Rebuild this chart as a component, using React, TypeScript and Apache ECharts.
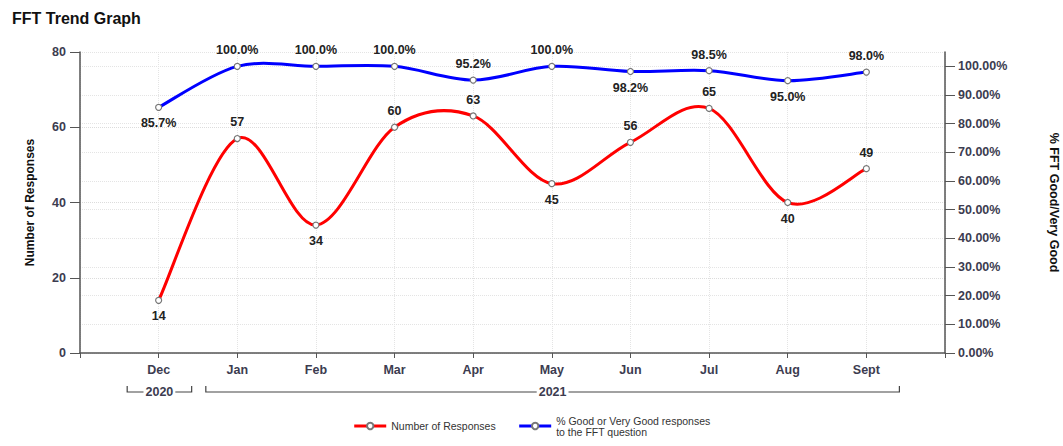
import React, { useEffect, useRef } from "react";
import * as echarts from "echarts";

const months = ["Dec", "Jan", "Feb", "Mar", "Apr", "May", "Jun", "Jul", "Aug", "Sept"];
const years = [
  { label: "2020", from: "Dec", to: "Dec" },
  { label: "2021", from: "Jan", to: "Sept" },
];
const responses = [14, 57, 34, 60, 63, 45, 56, 65, 40, 49];
const goodPct = [85.7, 100.0, 100.0, 100.0, 95.2, 100.0, 98.2, 98.5, 95.0, 98.0];
const responsesLabelPos = ["bottom", "top", "bottom", "top", "top", "bottom", "top", "top", "bottom", "top"];
const pctLabelPos = ["bottom", "top", "top", "top", "top", "top", "bottom", "top", "bottom", "top"];

const FONT = "'Liberation Sans', Arial, sans-serif";
const NAME_RESP = "Number of Responses";
const NAME_PCT = "% Good or Very Good responses\nto the FFT question";

// Catmull-Rom spline drawn segment by segment through the axes' own scales
function splineSeries(values: number[], yAxisIndex: number, color: string) {
  return {
    type: "custom",
    yAxisIndex,
    coordinateSystem: "cartesian2d",
    silent: true,
    z: 2,
    encode: { x: 0, y: 1 },
    data: values.map((v, i) => [i + 1, v]),
    renderItem: (params: any, api: any) => {
      const i = params.dataIndex;
      const n = values.length;
      if (i >= n - 1) return null;
      const pt = (k: number) => {
        const kk = Math.max(0, Math.min(n - 1, k));
        return api.coord([kk + 1, values[kk]]);
      };
      const p0 = pt(i - 1);
      const p1 = pt(i);
      const p2 = pt(i + 1);
      const p3 = pt(i + 2);
      return {
        type: "bezierCurve",
        shape: {
          x1: p1[0],
          y1: p1[1],
          x2: p2[0],
          y2: p2[1],
          cpx1: p1[0] + (p2[0] - p0[0]) / 6,
          cpy1: p1[1] + (p2[1] - p0[1]) / 6,
          cpx2: p2[0] - (p3[0] - p1[0]) / 6,
          cpy2: p2[1] - (p3[1] - p1[1]) / 6,
        },
        style: { stroke: color, lineWidth: 3, fill: null, lineCap: "round" },
      };
    },
  };
}

export default function App() {
  const ref = useRef<HTMLDivElement>(null);
  useEffect(() => {
    if (!ref.current) return;
    const chart = echarts.init(ref.current, undefined, { renderer: "svg" });
    const cats = ["", ...months, ""];
    const pad = (arr: any[]) => [null, ...arr, null];
    const labelStyle = { fontFamily: FONT, fontWeight: "bold", fontSize: 12.5, color: "#222", distance: 6 };
    const sym = { symbol: "circle", symbolSize: 6, itemStyle: { color: "#fff", borderColor: "#777", borderWidth: 1.2 } };
    const option: any = {
      animation: false,
      textStyle: { fontFamily: FONT },
      title: {
        text: "FFT Trend Graph",
        left: 7,
        top: 5,
        textStyle: { fontFamily: FONT, fontWeight: "bold", fontSize: 16, color: "#111" },
      },
      grid: { left: 80, right: 118, top: 52, bottom: 93, containLabel: false, outerBoundsMode: "none" },
      legend: {
        bottom: 4,
        left: "center",
        itemWidth: 32,
        itemHeight: 8,
        itemGap: 22,
        textStyle: { fontFamily: FONT, fontSize: 10.5, color: "#333", lineHeight: 11 },
        data: [
          { name: NAME_RESP, lineStyle: { color: "#ff0000", width: 3, opacity: 1 } },
          { name: NAME_PCT, lineStyle: { color: "#0000ff", width: 3, opacity: 1 } },
        ],
      },
      xAxis: {
        type: "category",
        data: cats,
        boundaryGap: false,
        axisLine: { lineStyle: { color: "#555", width: 1.5 } },
        axisTick: { show: true, length: 5, lineStyle: { color: "#555" } },
        axisLabel: { fontFamily: FONT, fontWeight: "bold", fontSize: 12.5, color: "#3c3c50", margin: 10, interval: 0 },
        splitLine: { show: true, lineStyle: { color: "#e4e4e4", type: "dotted" } },
      },
      yAxis: [
        {
          type: "value",
          min: 0,
          max: 80,
          interval: 20,
          name: "Number of Responses",
          nameLocation: "middle",
          nameRotate: 90,
          nameGap: 44,
          nameTextStyle: { fontFamily: FONT, fontWeight: "bold", fontSize: 12, color: "#111" },
          axisLine: { show: true, lineStyle: { color: "#555", width: 1.5 } },
          axisTick: { show: true, length: 10, lineStyle: { color: "#555" } },
          axisLabel: { fontFamily: FONT, fontWeight: "bold", fontSize: 12.5, color: "#3c3c50", margin: 14 },
          splitLine: { show: true, lineStyle: { color: "#dcdcdc", type: "dotted" } },
        },
        {
          type: "value",
          min: 0,
          max: 105,
          interval: 10,
          position: "right",
          name: "% FFT Good/Very Good",
          nameLocation: "middle",
          nameRotate: -90,
          nameGap: 102,
          nameTextStyle: { fontFamily: FONT, fontWeight: "bold", fontSize: 12.5, color: "#111" },
          axisLine: { show: true, lineStyle: { color: "#555", width: 1.5 } },
          axisTick: { show: true, length: 10, lineStyle: { color: "#555" } },
          axisLabel: {
            fontFamily: FONT,
            fontWeight: "bold",
            fontSize: 12.5,
            color: "#3c3c50",
            margin: 13,
            showMaxLabel: false,
            formatter: (v: number) => (v > 100 ? "" : v.toFixed(2) + "%"),
          },
          splitLine: { show: true, lineStyle: { color: "#e4e4e4", type: "dotted" } },
        },
      ],
      series: [
        splineSeries(responses, 0, "#ff0000"),
        splineSeries(goodPct, 1, "#0000ff"),
        {
          name: NAME_RESP,
          type: "line",
          yAxisIndex: 0,
          ...sym,
          lineStyle: { color: "#ff0000", width: 3, opacity: 0 },
          color: "#ff0000",
          data: pad(
            responses.map((v, i) => ({
              value: v,
              label: { show: true, position: responsesLabelPos[i], ...labelStyle },
            }))
          ),
          z: 5,
        },
        {
          name: NAME_PCT,
          type: "line",
          yAxisIndex: 1,
          ...sym,
          lineStyle: { color: "#0000ff", width: 3, opacity: 0 },
          color: "#0000ff",
          data: pad(
            goodPct.map((v, i) => ({
              value: v,
              label: {
                show: true,
                position: pctLabelPos[i],
                ...labelStyle,
                formatter: (p: any) => Number(p.value).toFixed(1) + "%",
              },
            }))
          ),
          z: 6,
        },
      ],
    };
    chart.setOption(option);

    // year brackets below the month labels
    const px = (c: string) => chart.convertToPixel({ xAxisIndex: 0 }, c) as number;
    const step = px("Jan") - px("Dec");
    const baseY = 446 - 93 + 39;
    const graphics: any[] = [];
    years.forEach((y) => {
      const x0 = px(y.from) - step * 0.4;
      const x1 = px(y.to) + step * 0.42;
      graphics.push({
        type: "polyline",
        shape: { points: [[x0, baseY - 6], [x0, baseY], [x1, baseY], [x1, baseY - 6]] },
        style: { stroke: "#444", lineWidth: 1.2, fill: null },
      });
      graphics.push({
        type: "text",
        x: (x0 + x1) / 2,
        y: baseY,
        style: {
          text: y.label,
          fontFamily: FONT,
          fontWeight: "bold",
          fontSize: 12.5,
          fill: "#3c3c50",
          align: "center",
          verticalAlign: "middle",
          backgroundColor: "#fff",
          padding: [0, 2],
        },
        z: 10,
      });
    });
    chart.setOption({ graphic: graphics });

    return () => chart.dispose();
  }, []);
  return (
    <div
      ref={ref}
      style={{ position: "fixed", left: 0, top: 0, width: 1063, height: 446, background: "#fff" }}
    />
  );
}
